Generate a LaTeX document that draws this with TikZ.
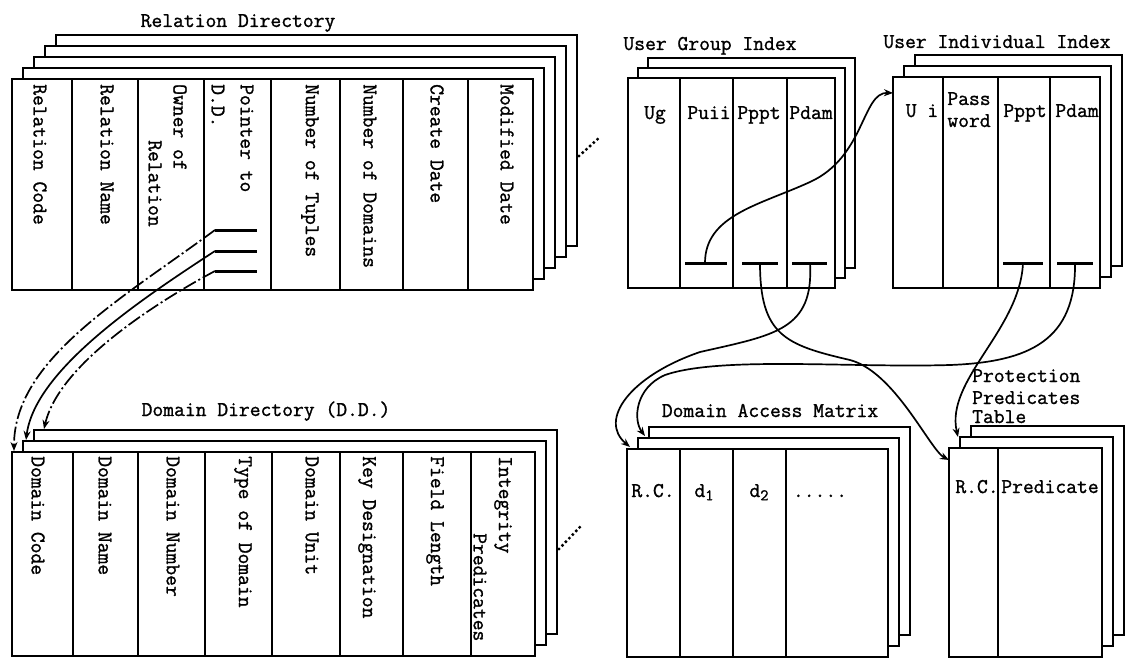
\documentclass[tikz,border=0pt]{standalone}
\usepackage{fontspec}
\newfontfamily\twfont{Latin Modern Mono}[FakeBold=1.2]
\usetikzlibrary{arrows.meta}
\begin{document}
\begin{tikzpicture}[x=1pt,y=-1pt,
  front/.style={draw, line width=2.4pt, fill=white, inner sep=0pt, outer sep=0pt, anchor=north west},
  layer/.style={draw, line width=1.9pt, fill=white},
  divider/.style={line width=1.5pt},
  ptrbar/.style={line width=3pt},
  lbl/.style={font=\twfont\fontsize{21}{24}\selectfont, inner sep=0pt},
  vlbl/.style={lbl, rotate=-90, anchor=west},
  hlbl/.style={lbl, anchor=base},
  link/.style={line width=1.7pt, -{Stealth[length=9pt,width=7pt]}},
  dashlink/.style={link, dash pattern=on 14pt off 3pt on 2pt off 3pt},
  morelayers/.style={line width=3.4pt, line cap=round, dash pattern=on 0pt off 5pt},
]
\useasboundingbox (0,0) rectangle (1132,658);

% ---------------- Relation Directory ----------------
\foreach \k in {4,3,2,1}
  \draw[layer] ({12+11*\k},{79-11*\k}) rectangle ({533+11*\k},{290-11*\k});
\node[front, minimum width=521pt, minimum height=211pt] (rd) at (12,79) {};
\foreach \x in {72,138,204,271,340,403,468}
  \draw[divider] (\x,0 |- rd.north) -- (\x,0 |- rd.south);
\node[hlbl] (rdtitle) at (238,27) {Relation Directory};
\foreach \x/\t [count=\i] in {40/Relation Code, 107/Relation Name, 180/Owner of, 247/Pointer to, 310/Number of Tuples, 370/Number of Domains, 437/Create Date, 507/Modified Date}
  \node[vlbl] (rdt\i) at (\x,84) {\t};
\node[vlbl] (rdt3b) at (155,140) {Relation};
\node[vlbl] (rdt4b) at (218,84) {D.D.};
\coordinate (rdm1) at (579,156);
\coordinate (rdm2) at (600,137);
\draw[morelayers] (rdm1) -- (rdm2);
% pointer bars
\foreach \y [count=\i] in {230,251,271} {
  \coordinate (rdb\i s) at (215,\y);
  \coordinate (rdb\i e) at (257,\y);
  \draw[ptrbar] (rdb\i s) -- (rdb\i e);
}

% ---------------- Domain Directory ----------------
\foreach \k in {2,1}
  \draw[layer] ({12+11*\k},{452-11*\k}) rectangle ({535+11*\k},{656-11*\k});
\node[front, minimum width=523pt, minimum height=204pt] (dd) at (12,452) {};
\foreach \x in {73,138,205,272,340,403,471}
  \draw[divider] (\x,0 |- dd.north) -- (\x,0 |- dd.south);
\node[hlbl] (ddtitle) at (266,416) {Domain Directory (D.D.)};
\foreach \x/\t [count=\i] in {38/Domain Code, 105/Domain Name, 173/Domain Number, 243/Type of Domain, 312/Domain Unit, 367/Key Designation, 435/Field Length, 503/Integrity}
  \node[vlbl] (ddt\i) at (\x,456) {\t};
\node[vlbl] (ddt8b) at (480,533) {Predicates};
\coordinate (ddm1) at (559,549);
\coordinate (ddm2) at (580,527);
\draw[morelayers] (ddm1) -- (ddm2);

% ---------------- User Group Index ----------------
\foreach \k in {2,1}
  \draw[layer] ({628+10*\k},{78-10*\k}) rectangle ({835+10*\k},{288-10*\k});
\node[front, minimum width=207pt, minimum height=210pt] (ug) at (628,78) {};
\foreach \x in {680,733,787}
  \draw[divider] (\x,0 |- ug.north) -- (\x,0 |- ug.south);
\node[hlbl] (ugtitle) at (710,50) {User Group Index};
\foreach \x/\t [count=\i] in {655/Ug, 709/Puii, 759/Pppt, 811/Pdam}
  \node[hlbl] (ugt\i) at (\x,119) {\t};
\foreach \a/\b/\m [count=\i] in {685/727/705, 742/778/760, 792/827/810} {
  \coordinate (ugb\i s) at (\a,263);
  \coordinate (ugb\i e) at (\b,263);
  \coordinate (ugb\i) at (\m,263);
  \draw[ptrbar] (ugb\i s) -- (ugb\i e);
}

% ---------------- User Individual Index ----------------
\foreach \k in {2,1}
  \draw[layer] ({893+11*\k},{77-11*\k}) rectangle ({1100+11*\k},{288-11*\k});
\node[front, minimum width=207pt, minimum height=211pt] (ui) at (893,77) {};
\foreach \x in {943,998,1050}
  \draw[divider] (\x,0 |- ui.north) -- (\x,0 |- ui.south);
\node[hlbl] (uititle) at (997,48) {User Individual Index};
\node[hlbl] (uit1) at (922,117) {U i};
\node[hlbl] (uit2) at (969,105) {Pass};
\node[hlbl] (uit2b) at (969,127) {word};
\node[hlbl] (uit3) at (1025,117) {Pppt};
\node[hlbl] (uit4) at (1077,117) {Pdam};
\foreach \a/\b/\m [count=\i] in {1003/1043/1023, 1057/1093/1075} {
  \coordinate (uib\i s) at (\a,263);
  \coordinate (uib\i e) at (\b,263);
  \coordinate (uib\i) at (\m,263);
  \draw[ptrbar] (uib\i s) -- (uib\i e);
}

% ---------------- Domain Access Matrix ----------------
\foreach \k in {2,1}
  \draw[layer] ({627+11*\k},{449-11*\k}) rectangle ({888+11*\k},{657-11*\k});
\node[front, minimum width=261pt, minimum height=208pt] (dam) at (627,449) {};
\foreach \x in {680,733,786}
  \draw[divider] (\x,0 |- dam.north) -- (\x,0 |- dam.south);
\node[hlbl] (damtitle) at (770,417) {Domain Access Matrix};
\node[hlbl] (damt1) at (653,497) {R.C.};
\node[hlbl] (damt2) at (704,497) {d\raisebox{-0.35ex}{\fontsize{16}{16}\selectfont 1}};
\node[hlbl] (damt3) at (759,497) {d\raisebox{-0.35ex}{\fontsize{16}{16}\selectfont 2}};
\node[hlbl] (damt4) at (820,497) {.....};

% ---------------- Protection Predicates Table ----------------
\foreach \k in {2,1}
  \draw[layer] ({949+11*\k},{448-11*\k}) rectangle ({1102+11*\k},{657-11*\k});
\node[front, minimum width=153pt, minimum height=209pt] (ppt) at (949,448) {};
\draw[divider] (998,0 |- ppt.north) -- (998,0 |- ppt.south);
\node[lbl, anchor=base west] (ppttitle1) at (972,382) {Protection};
\node[lbl, anchor=base west] (ppttitle2) at (972,404) {Predicates};
\node[lbl, anchor=base west] (ppttitle3) at (972,423) {Table};
\node[hlbl] (pptt1) at (977,493) {R.C.};
\node[hlbl] (pptt2) at (1050,493) {Predicate};

% ---------------- targets ----------------
\coordinate (dd0) at (14,451);
\coordinate (dd1) at (26,440);
\coordinate (dd2) at (44,429);
\coordinate (uiin) at (893,93);
\coordinate (pptin) at (949,460);
\coordinate (ppt1) at (958,437);
\coordinate (dam0) at (630,447);
\coordinate (dam1) at (645,436);

% ---------------- connectors ----------------
\draw[dashlink] (rdb1s) .. controls (120,300) and (14,360) .. (dd0);
\draw[link] (rdb2s) .. controls (140,300) and (35,370) .. (dd1);
\draw[dashlink] (rdb3s) .. controls (170,295) and (60,360) .. (dd2);

\draw[link] (ugb1) .. controls (705,215) and (760,205) .. (810,182)
  .. controls (865,157) and (862,92) .. (uiin);
\draw[link] (ugb2) .. controls (760,335) and (785,345) .. (850,360)
  .. controls (895,372) and (930,450) .. (pptin);
\draw[link] (ugb3) .. controls (814,330) and (775,335) .. (700,352)
  .. controls (630,376) and (598,420) .. (dam0);
\draw[link] (uib1) .. controls (1020,330) and (945,380) .. (ppt1);
\draw[link] (uib2) .. controls (1076,340) and (1030,362) .. (950,365)
  .. controls (850,368) and (720,356) .. (665,375)
  .. controls (635,388) and (633,420) .. (dam1);
\end{tikzpicture}
\end{document}
